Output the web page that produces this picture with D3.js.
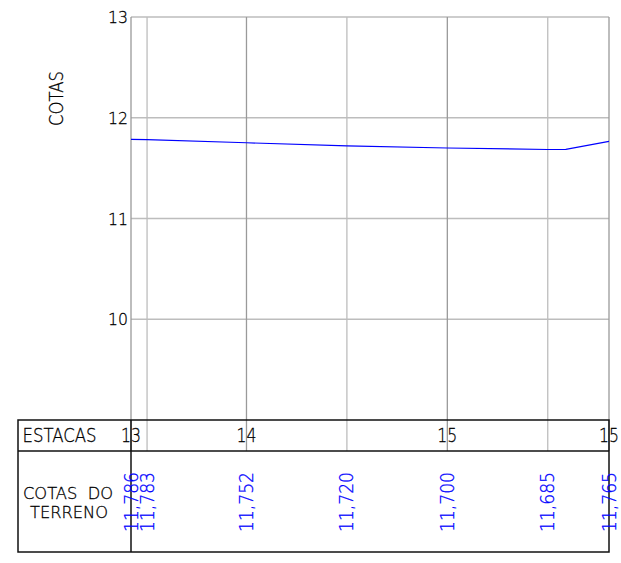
<!DOCTYPE html>
<html><head><meta charset="utf-8">
<script src="https://cdn.jsdelivr.net/npm/d3@7"></script>
<style>body{margin:0;background:#fff}svg{display:block}text{font-family:"DejaVu Sans",sans-serif;font-weight:200}</style>
</head><body><div id="c"></div>
<script>
const yTicks = [10, 11, 12, 13];
const stationLabels = ["13", "14", "15", "15"];
const stationDist = [0, 11.5, 31.5, 47.6];
const terrainDist = [0, 1.6, 11.5, 21.5, 31.5, 41.5, 47.6];
const terrainElev = [11.786, 11.783, 11.752, 11.720, 11.700, 11.685, 11.765];
const profileDist = [0, 1.6, 11.5, 21.5, 31.5, 41.5, 43.3, 47.6];
const profileElev = [11.786, 11.783, 11.752, 11.720, 11.700, 11.685, 11.686, 11.765];

const W = 621, H = 563;
const svg = d3.select("#c").append("svg").attr("width", W).attr("height", H);
const x = d3.scaleLinear().domain([0, 47.6]).range([131, 609]);
const y = d3.scaleLinear().domain([9, 13]).range([420, 17]);
const tTop = 420, tMid = 451, tBot = 552, tLeft = 18;
const ink = sel => sel.attr("stroke", sel.attr("fill")).attr("stroke-width", 0.3);

// horizontal grid
svg.append("g").selectAll("line").data(yTicks).join("line")
  .attr("x1", x(0)).attr("x2", x(47.6)).attr("y1", d => y(d)).attr("y2", d => y(d))
  .attr("stroke", "#bdbdbd").attr("stroke-width", 1.3);
// vertical grid through ESTACAS row
svg.append("g").selectAll("line").data(terrainDist).join("line")
  .attr("x1", d => x(d)).attr("x2", d => x(d)).attr("y1", y(13)).attr("y2", tMid)
  .attr("stroke", (d, i) => stationDist.includes(d) ? "#9a9a9a" : "#bdbdbd").attr("stroke-width", 1.3);

// y tick labels
svg.append("g").selectAll("text").data(yTicks).join("text")
  .attr("x", 128).attr("y", d => y(d) + 6).attr("text-anchor", "end")
  .attr("font-size", 16.5).attr("textLength", 20).attr("lengthAdjust", "spacingAndGlyphs")
  .attr("fill", "#000").call(ink).text(d => d);
svg.append("text").attr("transform", "translate(62.5,98.5) rotate(-90)").attr("text-anchor", "middle")
  .attr("font-size", 19.5).attr("textLength", 55).attr("lengthAdjust", "spacingAndGlyphs")
  .attr("fill", "#000").call(ink).text("COTAS");

// profile line
svg.append("path").datum(profileDist.map((d, i) => [d, profileElev[i]]))
  .attr("d", d3.line().x(d => x(d[0])).y(d => y(d[1])))
  .attr("fill", "none").attr("stroke", "#0000ff").attr("stroke-width", 1.2);

// table
const tb = svg.append("g").attr("stroke", "#111").attr("stroke-width", 1.5).attr("fill", "none");
tb.append("rect").attr("x", tLeft).attr("y", tTop).attr("width", x(47.6) - tLeft).attr("height", tBot - tTop);
tb.append("line").attr("x1", tLeft).attr("x2", x(47.6)).attr("y1", tMid).attr("y2", tMid);
tb.append("line").attr("x1", x(0)).attr("x2", x(0)).attr("y1", tTop).attr("y2", tBot);

svg.append("text").attr("x", 22.5).attr("y", 442.3).attr("font-size", 19)
  .attr("textLength", 74).attr("lengthAdjust", "spacingAndGlyphs").attr("fill", "#000").call(ink).text("ESTACAS");
svg.append("text").attr("x", 23).attr("y", 499).attr("font-size", 16.5)
  .attr("textLength", 90).attr("lengthAdjust", "spacingAndGlyphs").attr("fill", "#000").call(ink)
  .attr("xml:space", "preserve").style("white-space", "pre").text("COTAS  DO");
svg.append("text").attr("x", 30).attr("y", 518).attr("font-size", 16)
  .attr("textLength", 78).attr("lengthAdjust", "spacingAndGlyphs").attr("fill", "#000").call(ink).text("TERRENO");

svg.append("g").selectAll("text").data(stationLabels).join("text")
  .attr("x", (d, i) => x(stationDist[i]) - 10).attr("y", 442.3)
  .attr("font-size", 19).attr("textLength", 20).attr("lengthAdjust", "spacingAndGlyphs")
  .attr("fill", "#000").call(ink).text(d => d);

svg.append("g").selectAll("text").data(terrainElev).join("text")
  .attr("transform", (d, i) => `translate(${x(terrainDist[i]) + 6.5},532) rotate(-90)`)
  .attr("font-size", 19.5).attr("textLength", 60).attr("lengthAdjust", "spacingAndGlyphs")
  .attr("fill", "#0000ff").call(ink)
  .text(d => d3.format(".3f")(d).replace(".", ","));
</script></body></html>
